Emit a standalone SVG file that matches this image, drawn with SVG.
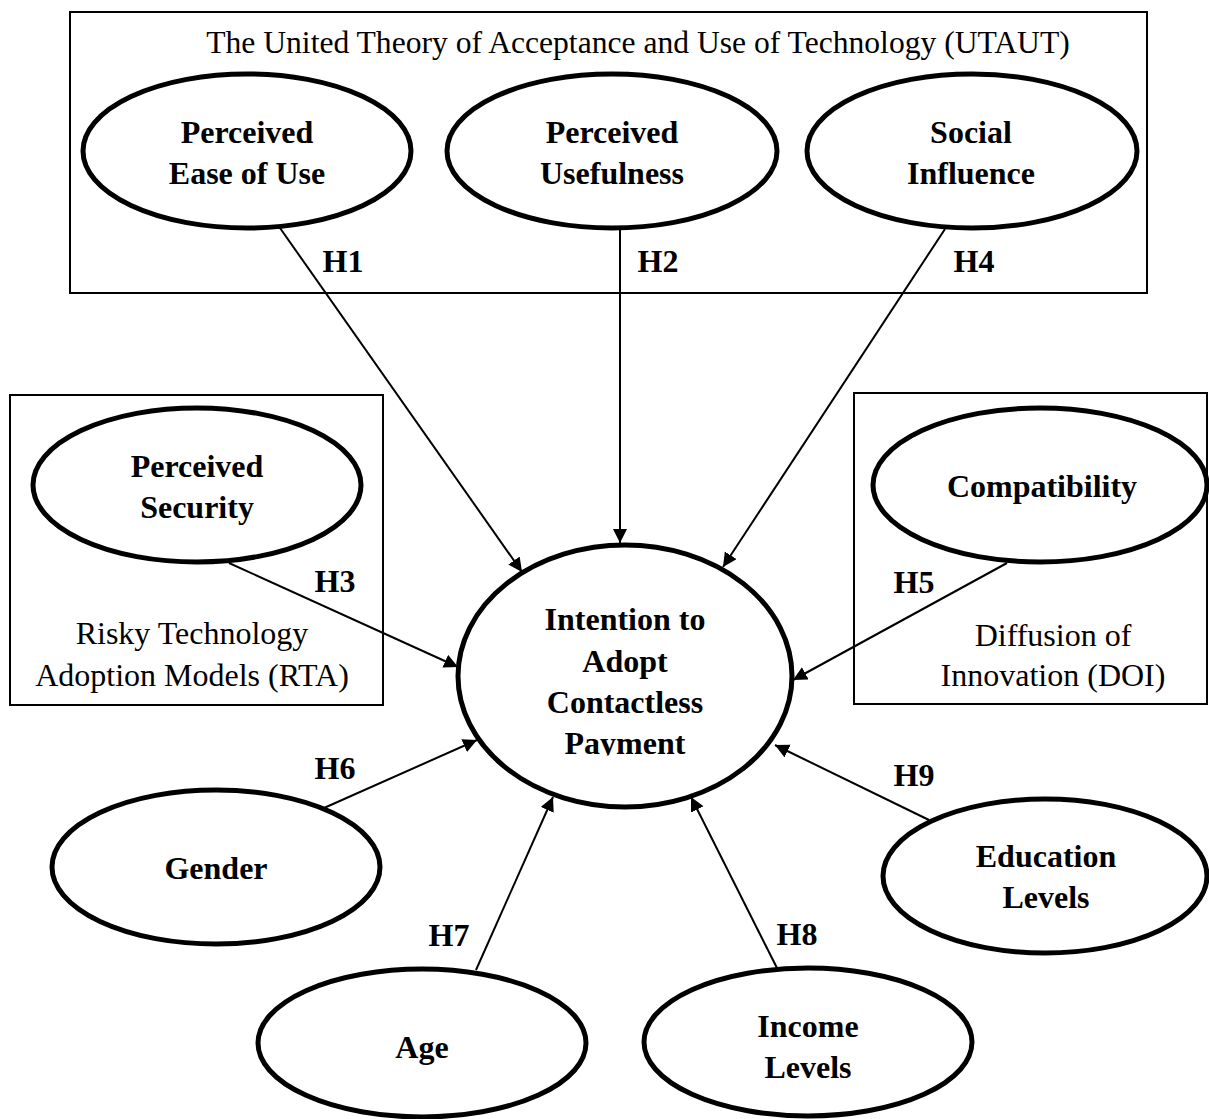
<svg xmlns="http://www.w3.org/2000/svg" width="1209" height="1119" viewBox="0 0 1209 1119">
<style>
  .box { fill: none; stroke: #000; stroke-width: 2; }
  .node { fill: #fff; stroke: #000; stroke-width: 5; }
  .lbl { font-family: "Liberation Serif", "Times New Roman", serif; font-weight: bold; font-size: 32px; fill: #000; text-anchor: middle; }
  .reg { font-family: "Liberation Serif", "Times New Roman", serif; font-size: 32px; fill: #000; text-anchor: middle; }
  .edge { stroke: #000; stroke-width: 2; fill: none; marker-end: url(#arr); }
</style>
<defs>
  <marker id="arr" markerUnits="userSpaceOnUse" markerWidth="16" markerHeight="16" refX="14" refY="7" orient="auto">
    <path d="M0,0 L14,7 L0,14 Z" fill="#000"/>
  </marker>
  <clipPath id="clipPay"><rect x="440" y="700" width="380" height="55.5"/></clipPath>
</defs>
<rect width="1209" height="1119" fill="#fff"/>

<g id="boxes">
  <g id="utaut-box">
    <rect class="box" x="70" y="12" width="1077" height="281"/>
    <text class="reg" x="638" y="53" style="font-size:31.6px">The United Theory of Acceptance and Use of Technology (UTAUT)</text>
  </g>
  <g id="rta-box">
    <rect class="box" x="10" y="395" width="373" height="310"/>
    <text class="reg" x="192" y="644">Risky Technology</text>
    <text class="reg" x="192" y="686">Adoption Models (RTA)</text>
  </g>
  <g id="doi-box">
    <rect class="box" x="854" y="393" width="353" height="311"/>
    <text class="reg" x="1053" y="646">Diffusion of</text>
    <text class="reg" x="1053" y="686">Innovation (DOI)</text>
  </g>
</g>

<g id="connectors">
  <line class="edge" x1="280" y1="228" x2="522" y2="572"/>
  <line class="edge" x1="620" y1="230" x2="620" y2="543"/>
  <line class="edge" x1="945" y1="229" x2="723" y2="567"/>
  <line class="edge" x1="229" y1="563" x2="458" y2="667"/>
  <line class="edge" x1="1007" y1="563" x2="793" y2="680"/>
  <line class="edge" x1="324" y1="808" x2="477" y2="740"/>
  <line class="edge" x1="476" y1="970" x2="553" y2="797"/>
  <line class="edge" x1="777" y1="968" x2="691" y2="797"/>
  <line class="edge" x1="929" y1="820" x2="775" y2="745"/>
  <text class="lbl" x="343" y="272">H1</text>
  <text class="lbl" x="658" y="272">H2</text>
  <text class="lbl" x="974" y="272">H4</text>
  <text class="lbl" x="335" y="592">H3</text>
  <text class="lbl" x="914" y="593">H5</text>
  <text class="lbl" x="335" y="779">H6</text>
  <text class="lbl" x="449" y="946">H7</text>
  <text class="lbl" x="797" y="945">H8</text>
  <text class="lbl" x="914" y="786">H9</text>
</g>

<g id="peou">
  <ellipse class="node" cx="247" cy="151" rx="164" ry="77"/>
  <text class="lbl" x="247" y="143">Perceived</text>
  <text class="lbl" x="247" y="184">Ease of Use</text>
</g>
<g id="pu">
  <ellipse class="node" cx="612" cy="151" rx="165" ry="77"/>
  <text class="lbl" x="612" y="143">Perceived</text>
  <text class="lbl" x="612" y="184">Usefulness</text>
</g>
<g id="si">
  <ellipse class="node" cx="972" cy="151" rx="165" ry="77"/>
  <text class="lbl" x="971" y="143">Social</text>
  <text class="lbl" x="971" y="184">Influence</text>
</g>
<g id="ps">
  <ellipse class="node" cx="197" cy="485" rx="164" ry="77"/>
  <text class="lbl" x="197" y="477">Perceived</text>
  <text class="lbl" x="197" y="518">Security</text>
</g>
<g id="compat">
  <ellipse class="node" cx="1040" cy="485" rx="167" ry="77"/>
  <text class="lbl" x="1042" y="497">Compatibility</text>
</g>
<g id="intention">
  <ellipse class="node" cx="625" cy="676" rx="167" ry="131"/>
  <text class="lbl" x="625" y="630">Intention to</text>
  <text class="lbl" x="625" y="672">Adopt</text>
  <text class="lbl" x="625" y="713">Contactless</text>
  <text class="lbl" x="625" y="754" clip-path="url(#clipPay)">Payment</text>
</g>
<g id="gender">
  <ellipse class="node" cx="216" cy="867" rx="164" ry="77"/>
  <text class="lbl" x="216" y="879">Gender</text>
</g>
<g id="age">
  <ellipse class="node" cx="422" cy="1043" rx="164" ry="74"/>
  <text class="lbl" x="422" y="1058">Age</text>
</g>
<g id="income">
  <ellipse class="node" cx="808" cy="1042" rx="164" ry="74"/>
  <text class="lbl" x="808" y="1037">Income</text>
  <text class="lbl" x="808" y="1078">Levels</text>
</g>
<g id="education">
  <ellipse class="node" cx="1045" cy="876" rx="162" ry="77"/>
  <text class="lbl" x="1046" y="867">Education</text>
  <text class="lbl" x="1046" y="908">Levels</text>
</g>
</svg>
